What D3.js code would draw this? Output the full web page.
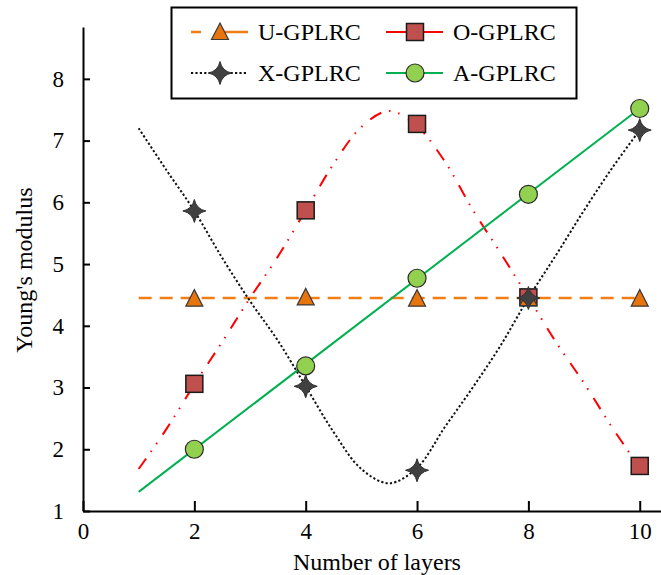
<!DOCTYPE html>
<html>
    <head>
        <meta charset="utf-8">
        <style>
        body {
            margin: 0;
            background: #fff;
        }

        svg {
            color: #000;
        }

        .axis .domain {
            stroke-width: 2;
        }

        .axis .tick line {
            stroke-width: 2;
        }
        </style>
    </head>
    <body>
        <div id="chart"></div>
        <script src="https://d3js.org/d3.v7.min.js"></script>
        <script>

            // layer counts where the markers sit
            let layers = [2, 4, 6, 8, 10]

            // measured Young's modulus at each layer count
            let uValues = [4.44, 4.46, 4.44, 4.45, 4.44]
            let oValues = [3.06, 5.87, 7.27, 4.46, 1.73]
            let xValues = [5.86, 3.02, 1.66, 4.45, 7.17]
            let aValues = [2.00, 3.35, 4.77, 6.13, 7.52]

            // fitted curves
            let fitX = [1, 1.5, 2, 2.5, 3, 3.5, 4, 4.5, 5, 5.5, 6, 6.5, 7, 7.5, 8, 8.5, 9, 9.5, 10]
            let oFit = [1.68, 2.33, 3.05, 3.74, 4.45, 5.12, 5.87, 6.62, 7.22, 7.48, 7.23, 6.66, 5.88, 5.18, 4.46, 3.73, 3.07, 2.36, 1.70]
            let xFit = [7.20, 6.52, 5.86, 5.10, 4.40, 3.76, 3.02, 2.28, 1.68, 1.45, 1.70, 2.36, 3.00, 3.68, 4.45, 5.15, 5.87, 6.55, 7.17]
            let lineX = [1, 10]
            let uFit = [4.45, 4.45]
            let aFit = [1.31, 7.52]

            let xTicks = [0, 2, 4, 6, 8, 10]
            let yTicks = [1, 2, 3, 4, 5, 6, 7, 8]

            let seriesNames = ["U-GPLRC", "O-GPLRC", "X-GPLRC", "A-GPLRC"]

            let font = "'Liberation Serif', 'Times New Roman', serif"

            let width = 661
            let height = 575

            let svg = d3.select("#chart")
                .append("svg")
                .attr("width", width)
                .attr("height", height)
                .attr("font-family", font)

            let x = d3.scaleLinear()
                .domain([0, 10.4])
                .range([83, 662])

            let y = d3.scaleLinear()
                .domain([1, 8.84])
                .range([511, 27])

            let starPath = "M0,-11.5 Q2,-2 11.5,0 Q2,2 0,11.5 Q-2,2 -11.5,0 Q-2,-2 0,-11.5 Z"

            let styles = {
                "U-GPLRC": {line: "#F07E14", dash: "13,8", width: 2.5, curve: d3.curveLinear},
                "O-GPLRC": {line: "#FF0000", dash: "13,8,1.5,8,1.5,10", width: 2, curve: d3.curveCatmullRom},
                "X-GPLRC": {line: "#111111", dash: "2.2,2.2", width: 2, curve: d3.curveCatmullRom},
                "A-GPLRC": {line: "#00B050", dash: null, width: 2, curve: d3.curveLinear}
            }

            // axes
            let yAxis = svg.append("g")
                .attr("class", "y axis")
                .attr("transform", `translate(${x(0)}, 0)`)
                .call(d3.axisLeft(y).tickValues(yTicks).tickSizeInner(-7).tickSizeOuter(0).tickPadding(19))

            let xAxis = svg.append("g")
                .attr("class", "x axis")
                .attr("transform", `translate(0, ${y(1)})`)
                .call(d3.axisBottom(x).tickValues(xTicks).tickSizeInner(-10).tickSizeOuter(0).tickPadding(12))

            svg.selectAll(".axis")
                .attr("font-family", font)
                .attr("font-size", 23)
            svg.selectAll(".axis text")
                .style("font-family", font)
                .style("font-size", "23px")
                .attr("fill", "#000")

            svg.append("text")
                .attr("x", 377)
                .attr("y", 570)
                .attr("text-anchor", "middle")
                .style("font-family", font)
                .style("font-size", "24px")
                .text("Number of layers")

            svg.append("text")
                .attr("transform", "translate(32, 270) rotate(-90)")
                .attr("text-anchor", "middle")
                .style("font-family", font)
                .style("font-size", "24px")
                .text("Young's modulus")

            // fitted lines
            let lineData = {
                "U-GPLRC": lineX.map((d, i) => [d, uFit[i]]),
                "O-GPLRC": fitX.map((d, i) => [d, oFit[i]]),
                "X-GPLRC": fitX.map((d, i) => [d, xFit[i]]),
                "A-GPLRC": lineX.map((d, i) => [d, aFit[i]])
            }

            seriesNames.forEach(name => {
                let s = styles[name]
                svg.append("path")
                    .datum(lineData[name])
                    .attr("fill", "none")
                    .attr("stroke", s.line)
                    .attr("stroke-width", s.width)
                    .attr("stroke-dasharray", s.dash)
                    .attr("d", d3.line().x(d => x(d[0])).y(d => y(d[1])).curve(s.curve))
            })

            // markers
            function drawMarker(g, name) {
                if (name == "U-GPLRC") {
                    g.append("path")
                        .attr("d", "M0,-9 L8.5,7.5 L-8.5,7.5 Z")
                        .attr("fill", "#E8740C")
                        .attr("stroke", "#3a3a3a")
                        .attr("stroke-width", 1.2)
                } else if (name == "O-GPLRC") {
                    g.append("rect")
                        .attr("x", -8.5).attr("y", -8.5)
                        .attr("width", 17).attr("height", 17)
                        .attr("fill", "#C0504D")
                        .attr("stroke", "#1a1a1a")
                        .attr("stroke-width", 1.5)
                } else if (name == "X-GPLRC") {
                    g.append("path")
                        .attr("d", starPath)
                        .attr("fill", "#404040")
                        .attr("stroke", "#303030")
                        .attr("stroke-width", 1)
                } else {
                    g.append("circle")
                        .attr("r", 9)
                        .attr("fill", "#92D050")
                        .attr("stroke", "#2a2a2a")
                        .attr("stroke-width", 1.2)
                }
            }

            let markerValues = {
                "U-GPLRC": uValues,
                "O-GPLRC": oValues,
                "X-GPLRC": xValues,
                "A-GPLRC": aValues
            }

            let drawOrder = ["O-GPLRC", "U-GPLRC", "X-GPLRC", "A-GPLRC"]

            drawOrder.forEach(name => {
                layers.forEach((l, i) => {
                    let g = svg.append("g")
                        .attr("transform", `translate(${x(l)}, ${y(markerValues[name][i])})`)
                    drawMarker(g, name)
                })
            })

            // legend
            let legend = svg.append("g").attr("class", "legend")

            legend.append("rect")
                .attr("x", 171.5).attr("y", 7.5)
                .attr("width", 405).attr("height", 91)
                .attr("fill", "#fff")
                .attr("stroke", "#000")
                .attr("stroke-width", 2)

            let legendPos = [
                {lx: 191, ly: 32},
                {lx: 386, ly: 32},
                {lx: 191, ly: 73},
                {lx: 386, ly: 73}
            ]

            seriesNames.forEach((name, i) => {
                let p = legendPos[i]
                let s = styles[name]
                let item = legend.append("g")
                    .attr("transform", `translate(${p.lx}, ${p.ly})`)
                item.append("line")
                    .attr("x1", 0).attr("x2", 57)
                    .attr("stroke", s.line)
                    .attr("stroke-width", s.width)
                    .attr("stroke-dasharray", name == "U-GPLRC" ? "10,18,30" : (name == "O-GPLRC" ? null : s.dash))
                let m = item.append("g").attr("transform", "translate(29, 0)")
                drawMarker(m, name)
                item.append("text")
                    .attr("x", 67)
                    .attr("y", 8)
                    .style("font-family", font)
                    .style("font-size", "24px")
                    .text(name)
            })

        </script>
    </body>
</html>
